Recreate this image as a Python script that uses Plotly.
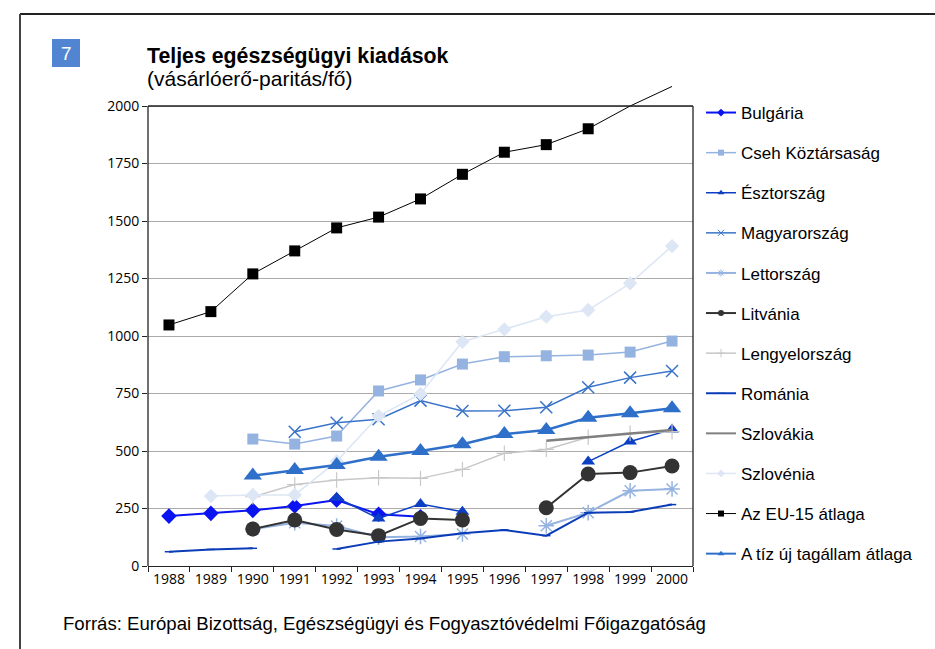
import plotly.graph_objects as go

years = ["1988", "1989", "1990", "1991", "1992", "1993", "1994",
         "1995", "1996", "1997", "1998", "1999", "2000"]

bulgaria = [217, 229, 242, 261, 287, 225, 214, None, None, None, None, None, None]
cseh = [None, None, 552, 530, 565, 761, 809, 878, 910, 914, 917, 930, 978]
esztorszag = [None, None, None, None, 297, 207, 270, 236, None, None, 454, 541, 594]
magyarorszag = [None, None, None, 584, 623, 638, 719, 674, 675, 690, 777, 819, 848]
lettorszag = [None, None, 160, 188, 174, 125, 128, 139, None, 175, 232, 327, 335]
litvania = [None, None, 161, 200, 159, 132, 207, 200, None, 253, 400, 406, 435]
lengyelorszag = [None, None, 301, 354, 374, 384, 381, 420, 490, 507, 560, 577, 584]
romania = [62, 72, 77, None, 74, 106, 120, 142, 157, 132, 232, 235, 267]
szlovakia = [None, None, None, None, None, None, None, None, None, 545, 560, 578, 591]
szlovenia = [None, 304, 309, 309, 455, 652, 748, 975, 1029, 1084, 1113, 1229, 1391]
eu15 = [1048, 1106, 1270, 1370, 1470, 1517, 1596, 1703, 1799, 1832, 1901, 2000, 2085]
tiz_uj = [None, None, 393, 417, 439, 475, 500, 529, 574, 591, 645, 664, 686]

y_ticks = [0, 250, 500, 750, 1000, 1250, 1500, 1750, 2000]

series = [
    # name, data, color, width, symbol, size, marker line width
    ("Bulgária", bulgaria, "#0a14f0", 2, "diamond", 12, 0),
    ("Cseh Köztársaság", cseh, "#95b3e0", 1.5, "square", 11, 0),
    ("Észtország", esztorszag, "#0d3fc4", 1.5, "triangle-up", 12, 0),
    ("Magyarország", magyarorszag, "#3a74c9", 1.5, "x-thin-open", 12, 1.5),
    ("Lettország", lettorszag, "#95b3e0", 2, "asterisk-open", 13, 1.5),
    ("Litvánia", litvania, "#333333", 2, "circle", 15, 0),
    ("Lengyelország", lengyelorszag, "#c8c8c8", 1.5, "cross-thin-open", 11, 1.2),
    ("Románia", romania, "#0b3cb8", 2, "line-ew-open", 6, 1.5),
    ("Szlovákia", szlovakia, "#808080", 2.5, None, 0, 0),
    ("Szlovénia", szlovenia, "#dce6f4", 1.5, "diamond", 11, 0),
    ("Az EU-15 átlaga", eu15, "#000000", 1, "square", 11, 0),
    ("A tíz új tagállam átlaga", tiz_uj, "#2e6fca", 2.5, "triangle-up", 16, 0),
]

fig = go.Figure()

for i, (name, data, color, width, symbol, size, mlw) in enumerate(series):
    if symbol is None:
        mode = "lines"
        marker = dict()
    else:
        mode = "lines+markers"
        sizes = [size] * len(years)
        if name == "Az EU-15 átlaga":
            sizes = [size if (v is not None and v < 1990) else 0 for v in data]
        marker = dict(symbol=symbol, size=sizes, color=color, opacity=1,
                      line=dict(width=mlw, color=color))
    fig.add_trace(go.Scatter(
        x=years, y=data, mode=mode, name=name,
        line=dict(color=color, width=width),
        marker=marker, showlegend=False, cliponaxis=False,
    ))

# legend-only entries with small symbols
for i, (name, data, color, width, symbol, size, mlw) in enumerate(series):
    if symbol is None:
        mode = "lines"
        marker = dict()
    else:
        mode = "lines+markers"
        marker = dict(symbol=symbol, size=6, color=color, opacity=1,
                      line=dict(width=min(mlw, 1), color=color))
    fig.add_trace(go.Scatter(
        x=[None], y=[None], mode=mode, name=name,
        line=dict(color=color, width=min(width, 2)),
        marker=marker, showlegend=True, legendgroup="g%d" % i,
    ))

W, H = 935, 649
L, R, T, B = 148, 242, 83, 83
pw, ph = W - L - R, H - T - B


def px_x(x):
    return (x - L) / pw


def px_y(y):
    return (H - B - y) / ph


shapes = [
    # plot-area frame (top, right, left) at 2000
    dict(type="line", xref="paper", yref="y", x0=0, x1=1, y0=2000, y1=2000,
         line=dict(color="#222222", width=1.3)),
    dict(type="line", xref="paper", yref="y", x0=1, x1=1, y0=0, y1=2000,
         line=dict(color="#222222", width=1.3)),
    dict(type="line", xref="paper", yref="y", x0=0, x1=0, y0=0, y1=2000,
         line=dict(color="#222222", width=1.3)),
    # outer page frame
    dict(type="line", xref="paper", yref="paper", x0=px_x(20), x1=px_x(940),
         y0=px_y(14), y1=px_y(14), line=dict(color="#222222", width=2)),
    dict(type="line", xref="paper", yref="paper", x0=px_x(20), x1=px_x(20),
         y0=px_y(14), y1=px_y(660), line=dict(color="#444444", width=2)),
    # chart number box
    dict(type="rect", xref="paper", yref="paper", x0=px_x(52), x1=px_x(80),
         y0=px_y(67), y1=px_y(39), fillcolor="#5185d1", line=dict(width=0)),
]

annotations = [
    dict(text="7", xref="paper", yref="paper", x=px_x(66), y=px_y(53),
         xanchor="center", yanchor="middle", showarrow=False,
         font=dict(family="Liberation Sans", size=19, color="white")),
    dict(text="<b>Teljes egészségügyi kiadások</b>", xref="paper", yref="paper",
         x=px_x(145), y=px_y(56), xanchor="left", yanchor="middle", showarrow=False,
         font=dict(family="Liberation Sans", size=21.3, color="black")),
    dict(text="(vásárlóerő-paritás/fő)", xref="paper", yref="paper",
         x=px_x(145), y=px_y(78), xanchor="left", yanchor="middle", showarrow=False,
         font=dict(family="Liberation Sans", size=21, color="black")),
    dict(text="Forrás: Európai Bizottság, Egészségügyi és Fogyasztóvédelmi Főigazgatóság",
         xref="paper", yref="paper", x=px_x(61), y=px_y(623), xanchor="left",
         yanchor="middle", showarrow=False,
         font=dict(family="Liberation Sans", size=18.6, color="black")),
]

fig.update_layout(
    width=W, height=H,
    margin=dict(l=L, r=R, t=T, b=B),
    paper_bgcolor="white", plot_bgcolor="white",
    shapes=shapes, annotations=annotations,
    legend=dict(x=px_x(701), y=px_y(95), xanchor="left", yanchor="top",
                font=dict(family="Liberation Sans", size=17, color="black"),
                tracegroupgap=15, bgcolor="rgba(0,0,0,0)", itemwidth=30,
                maxheight=1),
    xaxis=dict(type="category", categoryorder="array", categoryarray=years,
               range=[-0.5, 12.5], tickson="boundaries", ticks="outside",
               ticklen=5, tickcolor="#222222", showline=True,
               linecolor="#222222", linewidth=1.3, showgrid=False,
               tickfont=dict(family="Open Sans", size=14, color="black")),
    yaxis=dict(range=[0, 2100], tickvals=y_ticks, ticks="outside", ticklen=5,
               tickcolor="#222222", showline=False, showgrid=True,
               gridcolor="#ababab", gridwidth=1, zeroline=False,
               tickfont=dict(family="Open Sans", size=14, color="black")),
)

fig.write_html("out.html",
               config={"displayModeBar": False},
               post_script="document.body.style.margin='0';document.body.style.padding='0';")
